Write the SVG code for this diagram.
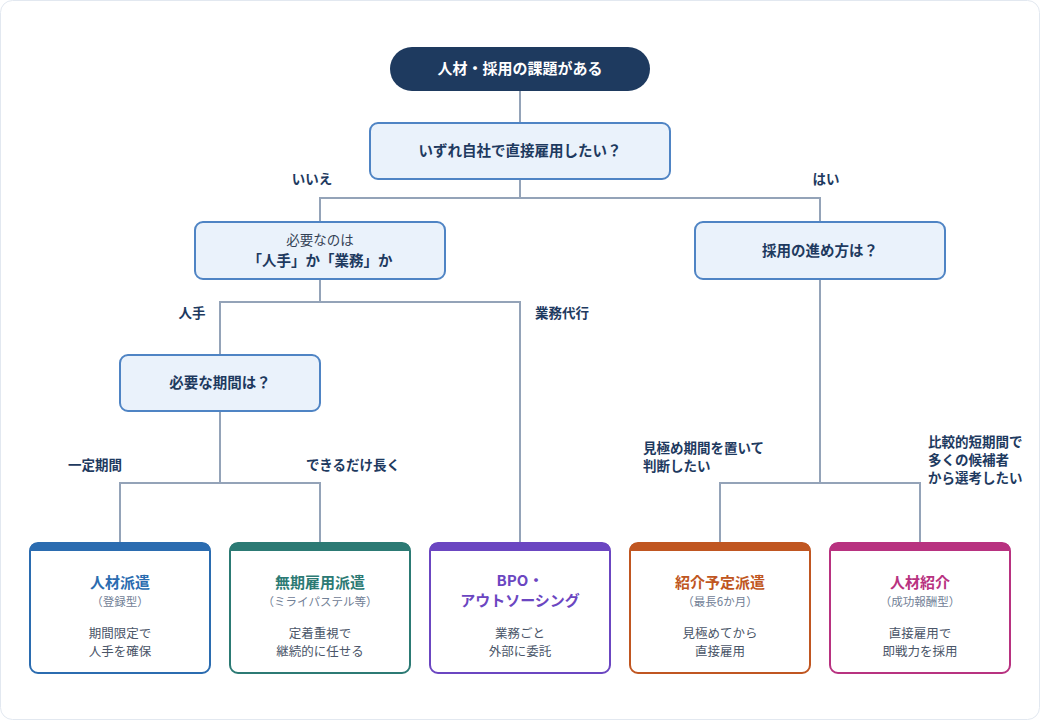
<svg xmlns="http://www.w3.org/2000/svg" width="1040" height="720" viewBox="0 0 1040 720">
<style>
text{font-family:"Noto Sans CJK JP","Noto Sans",sans-serif;}
.q{fill:#eaf2fb;stroke:#4f84c4;stroke-width:2;}
.qt{font-size:14.5px;font-weight:700;fill:#1e3a5f;text-anchor:middle;}
.qn{font-size:13.5px;fill:#334155;text-anchor:middle;}
.lb{font-size:13.5px;font-weight:700;fill:#1e3a5f;}
.ln{fill:none;stroke:#94a3b8;stroke-width:2;}
.box{fill:#fff;stroke-width:2;}
.tt{font-size:15px;font-weight:700;text-anchor:middle;}
.st{font-size:11.5px;fill:#718096;text-anchor:middle;}
.ds{font-size:12.5px;fill:#4a5568;text-anchor:middle;}
</style>
<rect x="0.5" y="0.5" width="1039" height="719" rx="12" fill="#ffffff" stroke="#e2e8f0"/>
<g id="connectors">
<path class="ln" d="M520 91V123"/>
<path class="ln" d="M520 179V198M320 222V198H820V222"/>
<path class="ln" d="M320 279V302M220 355V302H520V543"/>
<path class="ln" d="M220 411V483M120 543V483H320V543"/>
<path class="ln" d="M820 279V483M720 543V483H920V543"/>
</g>
<g id="labels">
<text class="lb" x="312" y="184" text-anchor="middle">いいえ</text>
<text class="lb" x="826" y="184" text-anchor="middle">はい</text>
<text class="lb" x="192" y="318" text-anchor="middle">人手</text>
<text class="lb" x="562" y="318" text-anchor="middle">業務代行</text>
<text class="lb" x="95" y="470" text-anchor="middle">一定期間</text>
<text class="lb" x="353" y="470" text-anchor="middle">できるだけ長く</text>
<text class="lb" x="643" y="453">見極め期間を置いて</text>
<text class="lb" x="643" y="471">判断したい</text>
<text class="lb" x="928" y="447">比較的短期間で</text>
<text class="lb" x="928" y="465">多くの候補者</text>
<text class="lb" x="928" y="483">から選考したい</text>
</g>
<g id="start">
<rect x="390" y="47" width="260" height="44" rx="22" fill="#1e3a5f"/>
<text x="520" y="74" font-size="15" font-weight="700" fill="#ffffff" text-anchor="middle">人材・採用の課題がある</text>
</g>
<g id="q1">
<rect class="q" x="370" y="123" width="300" height="56" rx="8"/>
<text class="qt" x="520" y="156">いずれ自社で直接雇用したい？</text>
</g>
<g id="q2">
<rect class="q" x="195" y="222" width="250" height="57" rx="8"/>
<text class="qn" x="320" y="245">必要なのは</text>
<text class="qt" x="320" y="266">「人手」か「業務」か</text>
</g>
<g id="q3">
<rect class="q" x="695" y="222" width="250" height="57" rx="8"/>
<text class="qt" x="820" y="256">採用の進め方は？</text>
</g>
<g id="q4">
<rect class="q" x="120" y="355" width="200" height="56" rx="8"/>
<text class="qt" x="220" y="388">必要な期間は？</text>
</g>
<g id="r1">
<rect class="box" x="30" y="543" width="180" height="130" rx="8" stroke="#2b6cb0"/>
<path d="M30 551V549A6 6 0 0 1 36 543H204A6 6 0 0 1 210 549V551Z" fill="#2b6cb0"/>
<text class="tt" x="120" y="588" fill="#2b6cb0">人材派遣</text>
<text class="st" x="120" y="606">（登録型）</text>
<text class="ds" x="120" y="638">期間限定で</text>
<text class="ds" x="120" y="656">人手を確保</text>
</g>
<g id="r2">
<rect class="box" x="230" y="543" width="180" height="130" rx="8" stroke="#2c7a74"/>
<path d="M230 551V549A6 6 0 0 1 236 543H404A6 6 0 0 1 410 549V551Z" fill="#2c7a74"/>
<text class="tt" x="320" y="588" fill="#2c7a74">無期雇用派遣</text>
<text class="st" x="320" y="606">（ミライパステル等）</text>
<text class="ds" x="320" y="638">定着重視で</text>
<text class="ds" x="320" y="656">継続的に任せる</text>
</g>
<g id="r3">
<rect class="box" x="430" y="543" width="180" height="130" rx="8" stroke="#6b46c1"/>
<path d="M430 551V549A6 6 0 0 1 436 543H604A6 6 0 0 1 610 549V551Z" fill="#6b46c1"/>
<text class="tt" x="520" y="586" fill="#6b46c1">BPO・</text>
<text class="tt" x="520" y="606" fill="#6b46c1">アウトソーシング</text>
<text class="ds" x="520" y="638">業務ごと</text>
<text class="ds" x="520" y="656">外部に委託</text>
</g>
<g id="r4">
<rect class="box" x="630" y="543" width="180" height="130" rx="8" stroke="#c05621"/>
<path d="M630 551V549A6 6 0 0 1 636 543H804A6 6 0 0 1 810 549V551Z" fill="#c05621"/>
<text class="tt" x="720" y="588" fill="#c05621">紹介予定派遣</text>
<text class="st" x="720" y="606">（最長6か月）</text>
<text class="ds" x="720" y="638">見極めてから</text>
<text class="ds" x="720" y="656">直接雇用</text>
</g>
<g id="r5">
<rect class="box" x="830" y="543" width="180" height="130" rx="8" stroke="#b83280"/>
<path d="M830 551V549A6 6 0 0 1 836 543H1004A6 6 0 0 1 1010 549V551Z" fill="#b83280"/>
<text class="tt" x="920" y="588" fill="#b83280">人材紹介</text>
<text class="st" x="920" y="606">（成功報酬型）</text>
<text class="ds" x="920" y="638">直接雇用で</text>
<text class="ds" x="920" y="656">即戦力を採用</text>
</g>
</svg>
